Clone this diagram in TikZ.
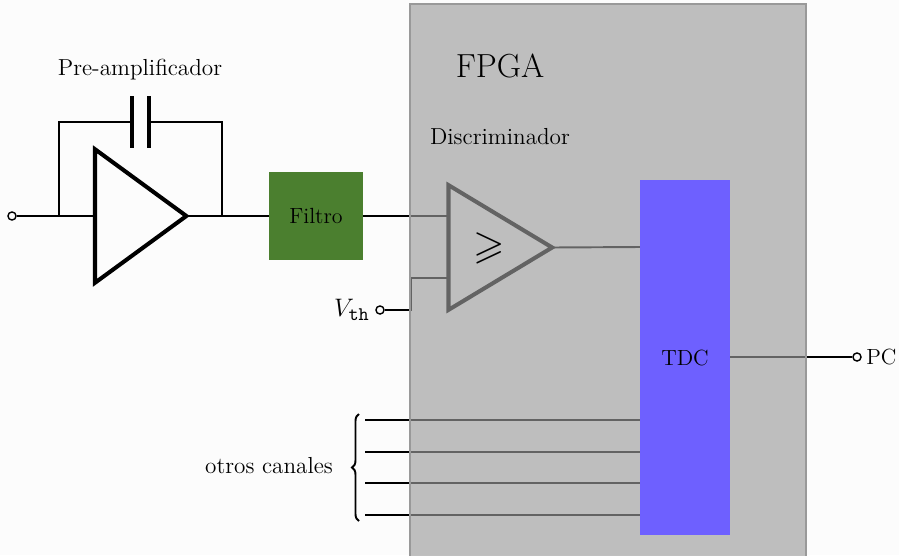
\documentclass[tikz,border=0pt]{standalone}
\usepackage{amssymb}
\usetikzlibrary{
	shapes.geometric,
	calc,
	decorations.pathreplacing}

\definecolor{paper}{HTML}{FCFCFC}
\definecolor{fpgagray}{gray}{0.61}
\definecolor{fpgaedge}{HTML}{999999}
\definecolor{filtgreen}{HTML}{4B7F2F}
\definecolor{tdcblue}{HTML}{6E60FF}

\begin{document}
\begin{tikzpicture}[x=0.02cm,y=-0.02cm,every text node part/.style={align=left}]
		\tikzstyle{wire}=[line width=1.1pt,black]
		\tikzstyle{terminal}=[circle,draw,fill=paper,line width=0.8pt,minimum size=4.6pt,
							inner sep=0pt]
		\tikzstyle{amptri}=[isosceles triangle,isosceles triangle stretches,draw,
							line width=2.3pt,inner sep=0pt,outer sep=0pt,shape border rotate=0]
		\tikzstyle{tag}=[font=\fontsize{13.2}{15}\selectfont,inner sep=0pt]
		\tikzstyle{captag}=[font=\fontsize{12.5}{15}\selectfont,inner sep=0pt]
		\tikzstyle{block}=[inner sep=0pt,anchor=center]

		\useasboundingbox [fill=paper] (0,0) rectangle (899,555);

		% preamp
		\node[amptri,minimum height=52pt,minimum width=76pt,anchor=west] (amp) at (95,216) {};
		\node[terminal] (in) at (12,216) {};
		\node[tag] (preamp) at (140,70) {Pre-amplificador};
		\coordinate (fbL) at (59,216);
		\coordinate (fbR) at (222,216);
		\coordinate (capL) at (132,122);
		\coordinate (capR) at (149,122);

		% filter
		\node[block,fill=filtgreen,minimum width=53.3pt,minimum height=50.5pt,captag] (filtro) at (316,216) {Filtro};

		% discriminator
		\node[amptri,minimum height=59pt,minimum width=71pt,anchor=west] (disc) at (448.5,247.5) {};
		\node[terminal] (vth) at (380,310) {};
		\node[tag,anchor=east,font=\fontsize{15}{17}\selectfont] (vthlabel) at (370,310) {$V_{\mathtt{th}}$};
		\coordinate (vthup) at (411,310);

		% edges
		\draw[wire] (in) -- (fbL) -- (amp.west);
		\draw[wire] (amp.east) -- (fbR) -- (filtro.west);
		\draw[wire] (fbL) |- (capL);
		\draw[wire] (fbR) |- (capR);
		\draw[wire] (filtro.east) -- (disc.west |- filtro.east);
		\draw[wire] (vth) -- (vthup) |- (disc.west |- 0,278);

		% capacitor plates
		\draw[line width=2.3pt] ($(capL)+(0,-26)$) -- ($(capL)+(0,26)$);
		\draw[line width=2.3pt] ($(capR)+(0,-26)$) -- ($(capR)+(0,26)$);

		% channels
		\foreach \name/\y in {c1/420, c2/452, c3/483, c4/515}
			\draw[wire] (365,\y) coordinate (\name) -- (640,\y);
		\coordinate (tdcout) at (730,357);
		\node[terminal] (pc) at (857,357) {};
		\draw[wire] (tdcout) -- (pc);
		\draw[wire] (disc.east) -- (640,247);
		\draw[line width=1.1pt,decorate,decoration={brace,amplitude=4pt}] (359,521) -- (359,414);

		% fpga
		\fill[fpgagray,fill opacity=0.64] (410,4) rectangle (806,560);
		\draw[fpgaedge,line width=1.1pt] (410,560) |- (806,4) -- (806,560);
		\node[font=\fontsize{19}{22}\selectfont,inner sep=0pt] (fpga) at (500,66) {FPGA};
		\node[tag] (disclabel) at (500,137) {Discriminador};
		\node[font=\fontsize{23}{26}\selectfont,inner sep=0pt] (geq) at (489,248) {$\geqslant$};

		% tdc
		\node[block,fill=tdcblue,minimum width=51pt,minimum height=201.6pt,captag] (tdc) at (685,357.5) {TDC};

		\node[captag,anchor=west] (pclabel) at (866,357) {PC};
		\node[tag] (otros) at (269,466) {otros canales};

	\end{tikzpicture}
\end{document}
